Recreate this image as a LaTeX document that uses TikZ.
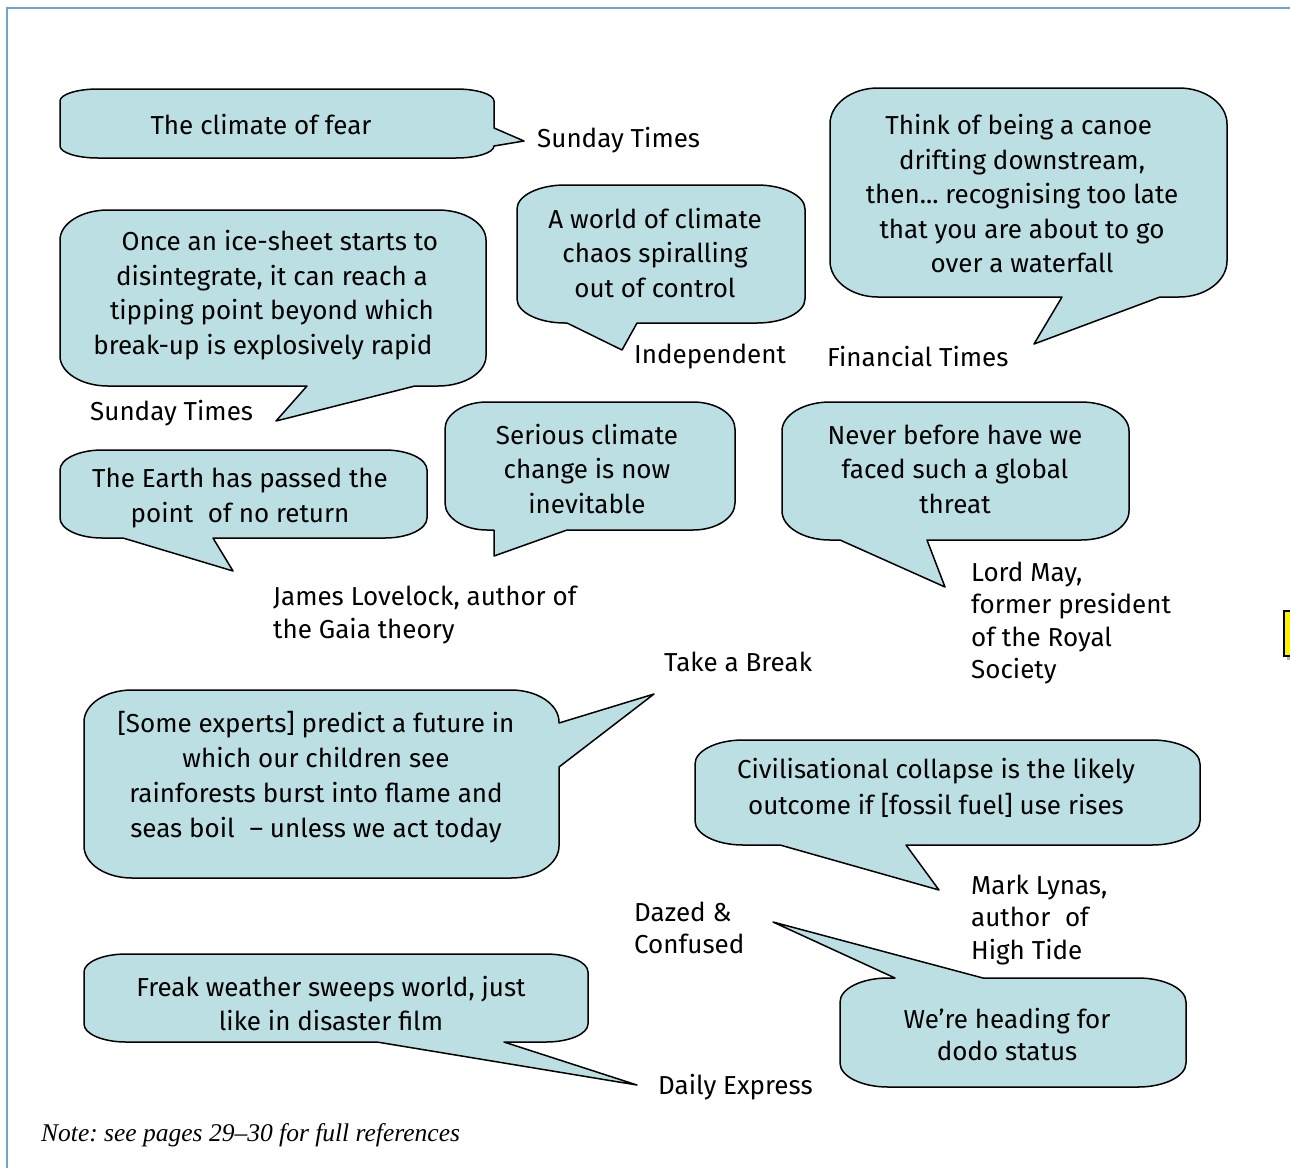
\documentclass[tikz,border=0pt]{standalone}
\usepackage{fontspec}
\setmainfont{Fira Sans}
\newfontfamily\notefont[Ligatures=TeX]{Liberation Serif}
\definecolor{bubfill}{RGB}{188,223,227}
\definecolor{framec}{RGB}{110,166,206}
\frenchspacing
\def\kk{0.448}
% quarter-ellipse corners
\newcommand\TL[4]{(#1,{#2+#4}) .. controls (#1,{#2+\kk*#4}) and ({#1+\kk*#3},#2) .. ({#1+#3},#2)}
\newcommand\TR[4]{({#1-#3},#2) .. controls ({#1-\kk*#3},#2) and (#1,{#2+\kk*#4}) .. (#1,{#2+#4})}
\newcommand\BR[4]{(#1,{#2-#4}) .. controls (#1,{#2-\kk*#4}) and ({#1-\kk*#3},#2) .. ({#1-#3},#2)}
\newcommand\BL[4]{({#1+#3},#2) .. controls ({#1+\kk*#3},#2) and (#1,{#2-\kk*#4}) .. (#1,{#2-#4})}
\begin{document}
\begin{tikzpicture}[x=1pt,y=-1pt,
  bub/.style={draw=black, line width=1.5pt, fill=bubfill, line join=round},
  btext/.style={align=center, inner sep=0pt, font=\fontsize{26}{34.5}\selectfont},
  lab/.style={align=left, anchor=west, inner sep=0pt, font=\fontsize{26}{32.5}\selectfont}]
\useasboundingbox (0,0) rectangle (1290,1168);
\fill[white] (0,0) rectangle (1290,1168);
% page frame
\draw[framec, line width=1.5pt] (7,1168) -- (7,8) -- (1290,8);
% yellow marker at right edge
\fill[gray!60] (1287,614) rectangle (1300,660);
\draw[black, line width=2pt, fill=yellow] (1284,611) rectangle (1300,656);

% 1 The climate of fear
\draw[bub] \TL{60}{89}{38}{12} -- \TR{494}{89}{38}{12} -- (494,128) -- (524,141) -- (494,146)
  -- \BR{494}{158}{38}{12} -- \BL{60}{158}{38}{12} -- cycle;
\node[btext] (q1) at (261,125) {The climate of fear};
\node[lab] (s1) at (537,140) {Sunday Times};

% 2 Once an ice-sheet
\draw[bub] \TL{60}{210}{48}{30} -- \TR{486}{210}{48}{30} -- \BR{486}{386}{48}{30}
  -- (415,386) -- (276,421) -- (307,386) -- \BL{60}{386}{48}{30} -- cycle;
\node[btext] (q2) at (272,295) {\hspace*{0.6em}Once an ice-sheet starts to\\disintegrate, it can reach a\hspace*{0.25em}\\tipping point beyond which\hspace*{0.8em}\\break-up is explosively rapid\hspace*{0.7em}};
\node[lab] (s2) at (90,413) {Sunday Times};

% 3 A world of climate chaos
\draw[bub] \TL{517}{185}{48}{24} -- \TR{805}{185}{48}{24} -- \BR{805}{323}{48}{24}
  -- (637,323) -- (622,350) -- (567,323) -- \BL{517}{323}{48}{24} -- cycle;
\node[btext] (q3) at (655,253) {A world of climate\\chaos spiralling\\out of control};
\node[lab] (s3) at (634,357) {Independent};

% 4 Think of being a canoe
\draw[bub] \TL{830}{88}{48}{36} -- \TR{1227}{88}{48}{36} -- \BR{1227}{297}{48}{36}
  -- (1160,297) -- (1034,344) -- (1062,297) -- \BL{830}{297}{48}{36} -- cycle;
\node[btext] (q4) at (1022,194) {Think of being a canoe\hspace*{0.25em}\\drifting downstream,\\then... recognising too late\\that you are about to go\\over a waterfall};
\node[lab] (s4) at (827,357) {Financial Times};

% 5 The Earth has passed
\draw[bub] \TL{60}{450}{42}{20} -- \TR{427}{450}{42}{20} -- \BR{427}{538}{42}{20}
  -- (213,538) -- (233,571) -- (123,538) -- \BL{60}{538}{42}{20} -- cycle;
\node[btext] (q5) at (240,498) {The Earth has passed the\\point\hspace{0.3em} of no return};
\node[lab] (s5) at (273,615) {James Lovelock, author of\\the Gaia theory};

% 6 Serious climate change
\draw[bub] \TL{445}{402}{42}{27} -- \TR{735}{402}{42}{27} -- \BR{735}{530}{42}{27}
  -- (567,530) -- (494,556) -- (494,530) -- \BL{445}{530}{42}{27} -- cycle;
\node[btext] (q6) at (587,469) {Serious climate\\change is now\\inevitable};

% 7 Never before
\draw[bub] \TL{782}{402}{48}{29} -- \TR{1129}{402}{48}{29} -- \BR{1129}{540}{48}{29}
  -- (927,540) -- (945,587) -- (840,540) -- \BL{782}{540}{48}{29} -- cycle;
\node[btext] (q7) at (955,469) {Never before have we\\faced such a global\hspace*{0.35em}\\threat};
\node[lab] (s7) at (971,623) {Lord May,\\former president\\of the Royal\\Society};

% 8 Some experts
\draw[bub] \TL{84}{690}{48}{32} -- \TR{559}{690}{48}{32} -- (559,723) -- (654,694) -- (559,767)
  -- \BR{559}{878}{48}{32} -- \BL{84}{878}{48}{32} -- cycle;
\node[btext, font=\fontsize{26}{35}\selectfont] (q8) at (316,777) {[Some experts] predict a future in\\which our children see\\rainforests burst into flame and\\seas boil\hspace{0.3em} -- unless we act today};
\node[lab] (s8) at (664,662) {Take a Break};

% 9 Civilisational collapse
\draw[bub] \TL{695}{740}{48}{24} -- \TR{1200}{740}{48}{24} -- \BR{1200}{845}{48}{24}
  -- (906,845) -- (939,890) -- (780,845) -- \BL{695}{845}{48}{24} -- cycle;
\node[btext, font=\fontsize{26}{36}\selectfont] (q9) at (936,788) {Civilisational collapse is the likely\\outcome if [fossil fuel] use rises};
\node[lab] (s9) at (971,920) {Mark Lynas,\\author\hspace{0.3em} of\\High Tide};

% 10 dodo status
\draw[bub] \TL{840}{978}{48}{24} -- (895,978) -- (773,922) -- (983,978) -- \TR{1186}{978}{48}{24}
  -- \BR{1186}{1087}{48}{24} -- \BL{840}{1087}{48}{24} -- cycle;
\node[btext, font=\fontsize{26}{32}\selectfont] (q10) at (1007,1034) {We’re heading for\\dodo status};
\node[lab] (s10) at (634,928) {Dazed \&\\Confused};

% 11 Freak weather
\draw[bub] \TL{84}{954}{42}{18} -- \TR{588}{954}{42}{18} -- \BR{588}{1042}{42}{18}
  -- (504,1042) -- (637,1085) -- (377,1042) -- \BL{84}{1042}{42}{18} -- cycle;
\node[btext, font=\fontsize{26}{34}\selectfont] (q11) at (331,1003) {Freak weather sweeps world, just\\like in disaster film};
\node[lab] (s11) at (658,1087) {Daily Express};

% note
\node[anchor=west, inner sep=0pt, font=\notefont\itshape\fontsize{25.5}{28}\selectfont] (note) at (41,1135) {Note: see pages 29–30 for full references};
\end{tikzpicture}
\end{document}
